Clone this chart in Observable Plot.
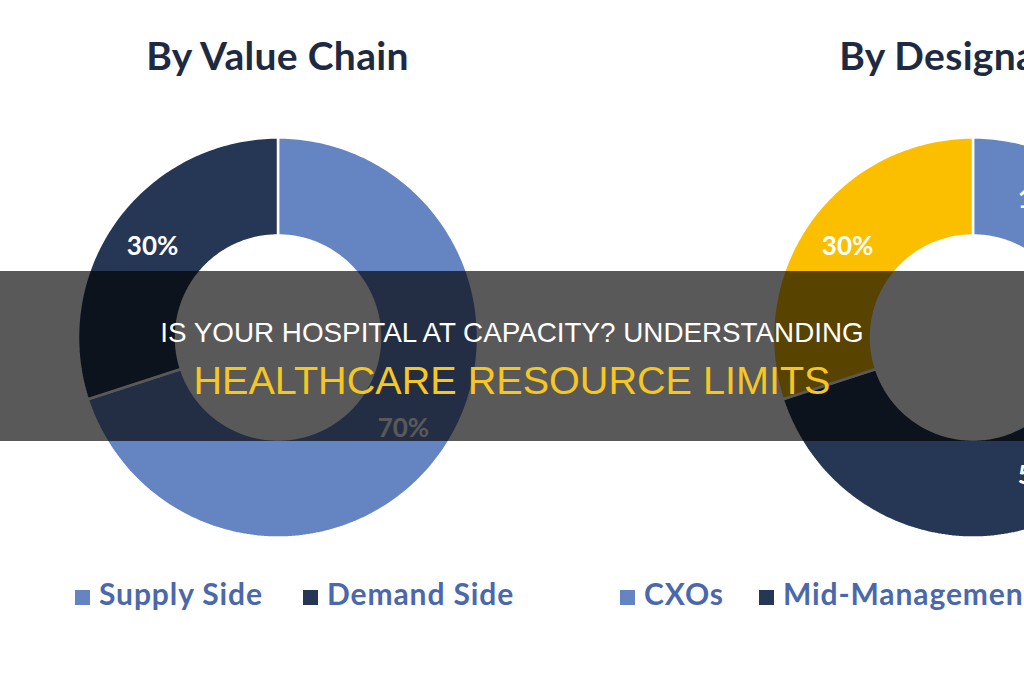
<!DOCTYPE html>
<html>
<head>
<meta charset="utf-8">
<script src="https://cdn.jsdelivr.net/npm/d3@7"></script>
<script src="https://cdn.jsdelivr.net/npm/@observablehq/plot@0.6"></script>
<style>
  html, body { margin: 0; padding: 0; width: 1024px; height: 680px; overflow: hidden; background: #fff; }
  #wrap { position: absolute; left: -70px; top: 0; width: 1390px; height: 680px; }
  .col { position: absolute; top: 0; width: 695px; height: 680px; }
  .title { position: absolute; top: 32px; left: 0; width: 100%; text-align: center;
           font-family: Lato, "Open Sans", sans-serif; font-weight: 700; font-size: 39px;
           letter-spacing: 0.3px; line-height: 1.2; color: #1e2a42; white-space: nowrap; }
  .chart { position: absolute; top: 127px; left: 0; }
  .legend { position: absolute; top: 576px; display: flex; white-space: nowrap;
            font-family: Lato, "Open Sans", sans-serif; font-weight: 700; font-size: 30px;
            letter-spacing: 0.9px; line-height: 35px; color: #4b68ab; }
  .item { display: flex; align-items: center; }
  .sw { width: 15px; height: 15px; margin-right: 9px; transform: translateY(4px); }
  #band { position: absolute; left: 0; top: 271px; width: 1024px; height: 170px; background: rgba(0,0,0,0.65); }
  .head { position: absolute; left: 0; width: 1024px; text-align: center; white-space: nowrap;
          font-family: "Liberation Sans", Arial, sans-serif; line-height: 1; }
</style>
</head>
<body>
<div id="wrap"></div>
<div id="band"></div>
<div class="head" style="top:319px;font-size:27.8px;color:#ffffff;">IS YOUR HOSPITAL AT CAPACITY? UNDERSTANDING</div>
<div class="head" style="top:361px;font-size:39.6px;color:#f6c623;">HEALTHCARE RESOURCE LIMITS</div>
<script>
// ---- data ----
const chartTitles = ["By Value Chain", "By Designation"];
const valueChainCategories = ["Supply Side", "Demand Side"];
const valueChainShares = [70, 30];
const valueChainColors = ["#6584c2", "#253755"];
const designationCategories = ["CXOs", "Mid-Management", "Directors"];
const designationShares = [15, 55, 30];
const designationColors = ["#6584c2", "#253755", "#fbbf00"];
const legendLeft = [145, -5];
const legendGap = [40, 35];

const charts = [
  {title: chartTitles[0], cats: valueChainCategories, vals: valueChainShares, cols: valueChainColors},
  {title: chartTitles[1], cats: designationCategories, vals: designationShares, cols: designationColors}
];

const R_OUT = 1, R_IN = 0.51, R_LABEL = 0.775;

function slices(cats, vals) {
  const total = d3.sum(vals);
  let acc = 0;
  return cats.map((c, i) => {
    const a0 = acc / total * 360;
    acc += vals[i];
    const a1 = acc / total * 360;
    const pts = [];
    const n = Math.max(2, Math.ceil(a1 - a0));
    for (let k = 0; k <= n; k++) {
      const a = (a0 + (a1 - a0) * k / n) * Math.PI / 180;
      pts.push({x: R_OUT * Math.sin(a), y: R_OUT * Math.cos(a)});
    }
    for (let k = n; k >= 0; k--) {
      const a = (a0 + (a1 - a0) * k / n) * Math.PI / 180;
      pts.push({x: R_IN * Math.sin(a), y: R_IN * Math.cos(a)});
    }
    const am = (a0 + a1) / 2 * Math.PI / 180;
    return {cat: c, value: vals[i], pts, lx: R_LABEL * Math.sin(am), ly: R_LABEL * Math.cos(am)};
  });
}

const wrap = document.getElementById("wrap");
charts.forEach((ch, ci) => {
  const col = document.createElement("div");
  col.className = "col";
  col.style.left = (ci * 695) + "px";
  const t = document.createElement("div");
  t.className = "title";
  t.textContent = ch.title;
  col.appendChild(t);

  const sl = slices(ch.cats, ch.vals);
  const marks = sl.map((s, i) => Plot.line(s.pts, {
    x: "x", y: "y", curve: "linear-closed",
    fill: ch.cols[i], stroke: "#ffffff", strokeWidth: 2.5, strokeLinejoin: "miter"
  }));
  marks.push(Plot.text(sl, {
    x: "lx", y: "ly", text: d => d.value + "%",
    fill: "#ffffff", fontSize: 26, fontWeight: "bold", fontFamily: "Lato, sans-serif"
  }));
  const svg = Plot.plot({
    width: 695, height: 420,
    marginTop: 0, marginBottom: 0, marginLeft: 0, marginRight: 0,
    x: {domain: [-1.7375, 1.7375], axis: null},
    y: {domain: [-1.05, 1.05], axis: null},
    style: {background: "transparent", overflow: "visible"},
    marks
  });
  const holder = document.createElement("div");
  holder.className = "chart";
  holder.appendChild(svg);
  col.appendChild(holder);

  const lg = document.createElement("div");
  lg.className = "legend";
  lg.style.left = legendLeft[ci] + "px";
  ch.cats.forEach((c, i) => {
    const it = document.createElement("div");
    it.className = "item";
    it.style.marginRight = legendGap[ci] + "px";
    const sw = document.createElement("div");
    sw.className = "sw";
    sw.style.background = ch.cols[i];
    const tx = document.createElement("span");
    tx.textContent = c;
    it.appendChild(sw); it.appendChild(tx);
    lg.appendChild(it);
  });
  col.appendChild(lg);
  wrap.appendChild(col);
});
</script>
</body>
</html>
